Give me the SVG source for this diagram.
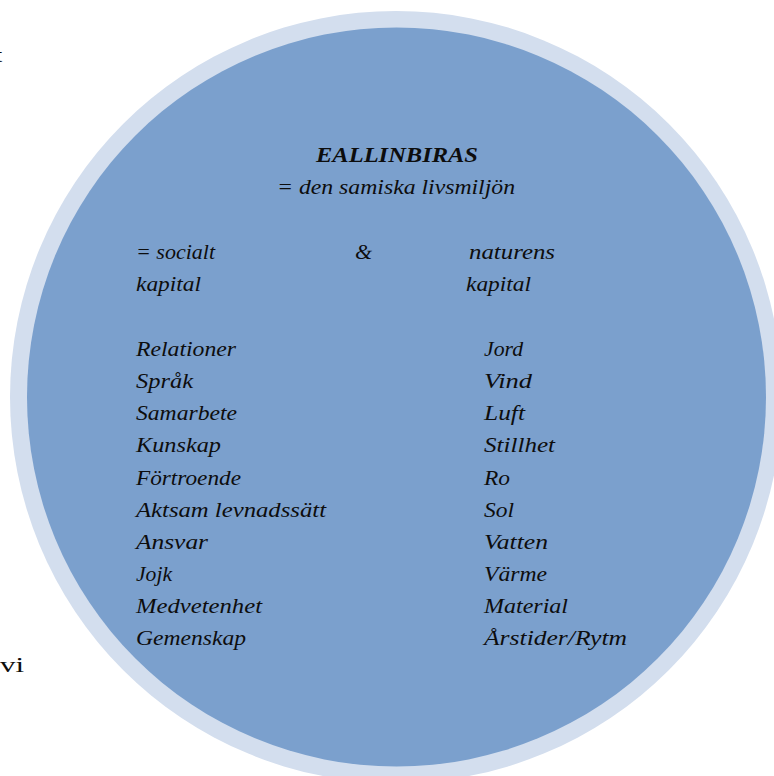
<svg xmlns="http://www.w3.org/2000/svg" width="774" height="776" viewBox="0 0 774 776">
<style>
text{font-family:'Liberation Serif','Times New Roman',Times,serif;font-size:22px;fill:#0d0d0d}
.t{font-style:italic}
.b{font-weight:bold}
</style>
<rect width="774" height="776" fill="#ffffff"/>
<text x="-4" y="62">t</text>
<text x="0" y="672" textLength="24" lengthAdjust="spacingAndGlyphs">vi</text>
<g id="circle">
<circle cx="396" cy="397" r="386" fill="#D3DEEE"/>
<circle cx="396.5" cy="397" r="369.5" fill="#7BA0CD"/>
</g>
<g id="header">
<text class="t b" x="316" y="162" textLength="162" lengthAdjust="spacingAndGlyphs">EALLINBIRAS</text>
<text class="t" x="277" y="194" textLength="238" lengthAdjust="spacingAndGlyphs">= den samiska livsmiljön</text>
<text class="t" x="136" y="259" textLength="79" lengthAdjust="spacingAndGlyphs">= socialt</text>
<text class="t" x="355" y="259">&amp;</text>
<text class="t" x="469" y="259" textLength="86" lengthAdjust="spacingAndGlyphs">naturens</text>
<text class="t" x="136" y="291" textLength="65" lengthAdjust="spacingAndGlyphs">kapital</text>
<text class="t" x="466" y="291" textLength="65" lengthAdjust="spacingAndGlyphs">kapital</text>
</g>
<g id="social">
<text class="t" x="136" y="356" textLength="100" lengthAdjust="spacingAndGlyphs">Relationer</text>
<text class="t" x="136" y="388" textLength="57" lengthAdjust="spacingAndGlyphs">Språk</text>
<text class="t" x="136" y="420" textLength="101" lengthAdjust="spacingAndGlyphs">Samarbete</text>
<text class="t" x="136" y="452" textLength="85" lengthAdjust="spacingAndGlyphs">Kunskap</text>
<text class="t" x="136" y="485" textLength="105" lengthAdjust="spacingAndGlyphs">Förtroende</text>
<text class="t" x="136" y="517" textLength="190" lengthAdjust="spacingAndGlyphs">Aktsam levnadssätt</text>
<text class="t" x="136" y="549" textLength="72" lengthAdjust="spacingAndGlyphs">Ansvar</text>
<text class="t" x="136" y="581" textLength="36" lengthAdjust="spacingAndGlyphs">Jojk</text>
<text class="t" x="136" y="613" textLength="126" lengthAdjust="spacingAndGlyphs">Medvetenhet</text>
<text class="t" x="136" y="645" textLength="110" lengthAdjust="spacingAndGlyphs">Gemenskap</text>
</g>
<g id="nature">
<text class="t" x="484" y="356" textLength="39" lengthAdjust="spacingAndGlyphs">Jord</text>
<text class="t" x="484" y="388" textLength="48" lengthAdjust="spacingAndGlyphs">Vind</text>
<text class="t" x="484" y="420" textLength="41" lengthAdjust="spacingAndGlyphs">Luft</text>
<text class="t" x="484" y="452" textLength="71" lengthAdjust="spacingAndGlyphs">Stillhet</text>
<text class="t" x="484" y="485" textLength="26" lengthAdjust="spacingAndGlyphs">Ro</text>
<text class="t" x="484" y="517" textLength="30" lengthAdjust="spacingAndGlyphs">Sol</text>
<text class="t" x="484" y="549" textLength="64" lengthAdjust="spacingAndGlyphs">Vatten</text>
<text class="t" x="484" y="581" textLength="63" lengthAdjust="spacingAndGlyphs">Värme</text>
<text class="t" x="484" y="613" textLength="84" lengthAdjust="spacingAndGlyphs">Material</text>
<text class="t" x="484" y="645" textLength="143" lengthAdjust="spacingAndGlyphs">Årstider/Rytm</text>
</g>
</svg>
